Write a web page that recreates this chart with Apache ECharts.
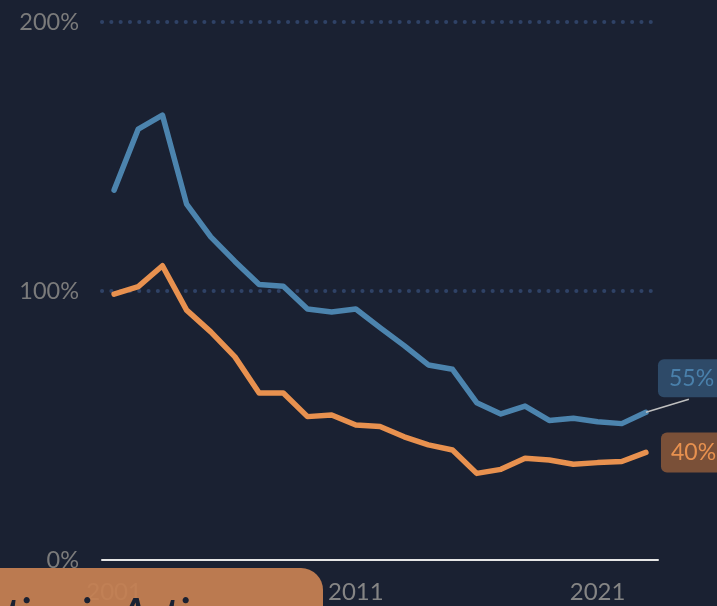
<!DOCTYPE html>
<html>
<head>
<meta charset="utf-8">
<script src="https://cdn.jsdelivr.net/npm/echarts@6/dist/echarts.min.js"></script>
<style>
  html, body { margin: 0; padding: 0; background: #1a2132; }
  #chart { width: 717px; height: 606px; }
</style>
</head>
<body>
<div id="chart"></div>
<script>
const years = ['2001', '2002', '2003', '2004', '2005', '2006', '2007', '2008', '2009', '2010', '2011', '2012',
  '2013', '2014', '2015', '2016', '2017', '2018', '2019', '2020', '2021', '2022', '2023'];
const blueValues = [137.5, 160.2, 165.4, 132.3, 120.1, 111.0, 102.4, 101.8, 93.3, 92.2, 93.3, 86.4,
  79.7, 72.5, 70.9, 58.5, 54.3, 57.2, 51.9, 52.7, 51.4, 50.7, 54.9];
const orangeValues = [98.8, 101.6, 109.4, 92.9, 84.8, 75.5, 62.1, 62.1, 53.3, 53.9, 50.2, 49.6,
  45.8, 42.8, 40.9, 32.2, 33.7, 37.8, 37.2, 35.6, 36.2, 36.6, 40.0];
const shownYears = ['2001', '2011', '2021'];
const titleText = 'Argentina in Action';

const BLUE = '#4c84ae';
const ORANGE = '#e8914f';
const BLUE_LABEL_SHIFT = -34;

// only the last point carries a label; others keep no label
function withEndLabel(values, label) {
  return values.map((v, i) => (i === values.length - 1 ? { value: v, label: label } : v));
}

const pctFormatter = (p) => Math.round(p.value) + '%';

const chart = echarts.init(document.getElementById('chart'), null, { renderer: 'canvas' });

chart.setOption({
  backgroundColor: '#1a2132',
  animation: false,
  grid: { left: 102, right: 59, top: 22, bottom: 46, containLabel: false },
  xAxis: {
    type: 'category',
    data: years,
    boundaryGap: true,
    axisTick: { show: false },
    axisLine: { show: true, lineStyle: { color: '#e6e6e6', width: 2 } },
    axisLabel: {
      color: '#858585',
      fontFamily: 'Lato',
      fontSize: 24,
      margin: 20,
      interval: (idx, val) => shownYears.includes(val)
    },
    splitLine: { show: false }
  },
  yAxis: {
    type: 'value',
    min: 0,
    max: 200,
    interval: 100,
    axisLine: { show: false },
    axisTick: { show: false },
    axisLabel: {
      color: '#7b7b7b',
      fontFamily: 'Lato',
      fontSize: 23.5,
      margin: 23,
      formatter: '{value}%'
    },
    splitLine: {
      show: true,
      showMinLine: false,
      lineStyle: { color: '#2f4266', width: 4, type: [0.1, 9.2], cap: 'round' }
    }
  },
  series: [
    {
      name: 'blue',
      type: 'line',
      showSymbol: true,
      symbol: 'circle',
      symbolSize: 0.1,
      itemStyle: { color: BLUE },
      lineStyle: { color: BLUE, width: 5.5, cap: 'round', join: 'round' },
      label: { show: false },
      data: withEndLabel(blueValues, {
        show: true,
        position: 'right',
        distance: 12,
        formatter: pctFormatter,
        color: '#4a80ab',
        backgroundColor: '#2e4a68',
        borderRadius: 6,
        padding: [8, 12, 7, 11],
        fontFamily: 'Lato',
        fontSize: 23
      }),
      labelLayout: { dy: BLUE_LABEL_SHIFT },
      z: 3
    },
    {
      name: 'orange',
      type: 'line',
      showSymbol: true,
      symbol: 'circle',
      symbolSize: 0.1,
      itemStyle: { color: ORANGE },
      lineStyle: { color: ORANGE, width: 5.5, cap: 'round', join: 'round' },
      label: { show: false },
      data: withEndLabel(orangeValues, {
        show: true,
        position: 'right',
        distance: 15,
        formatter: pctFormatter,
        color: '#e8914f',
        backgroundColor: '#7a5038',
        borderRadius: 6,
        padding: [9, 12, 8, 10],
        fontFamily: 'Lato',
        fontSize: 23
      }),
      z: 2
    }
  ],
  graphic: [
    {
      id: 'banner',
      type: 'rect',
      z: 100,
      shape: { x: -20, y: 568, width: 343, height: 80, r: [0, 22, 0, 0] },
      style: { fill: 'rgba(196,128,82,0.95)' }
    },
    {
      id: 'bannerText',
      type: 'text',
      z: 101,
      left: -95,
      top: 594,
      style: {
        text: titleText,
        fill: '#1a2132',
        font: 'italic bold 40px Lato'
      }
    }
  ]
});

// connector from the last blue point to the bottom of its shifted label box
const lastIdx = blueValues.length - 1;
const end = chart.convertToPixel({ seriesIndex: 0 }, [lastIdx, blueValues[lastIdx]]);
chart.setOption({
  graphic: [
    {
      id: 'connector',
      type: 'line',
      z: 4,
      shape: { x1: end[0], y1: end[1], x2: end[0] + 43, y2: end[1] - 13 },
      style: { stroke: '#bfbfbf', lineWidth: 1.5 }
    }
  ]
});
</script>
</body>
</html>
